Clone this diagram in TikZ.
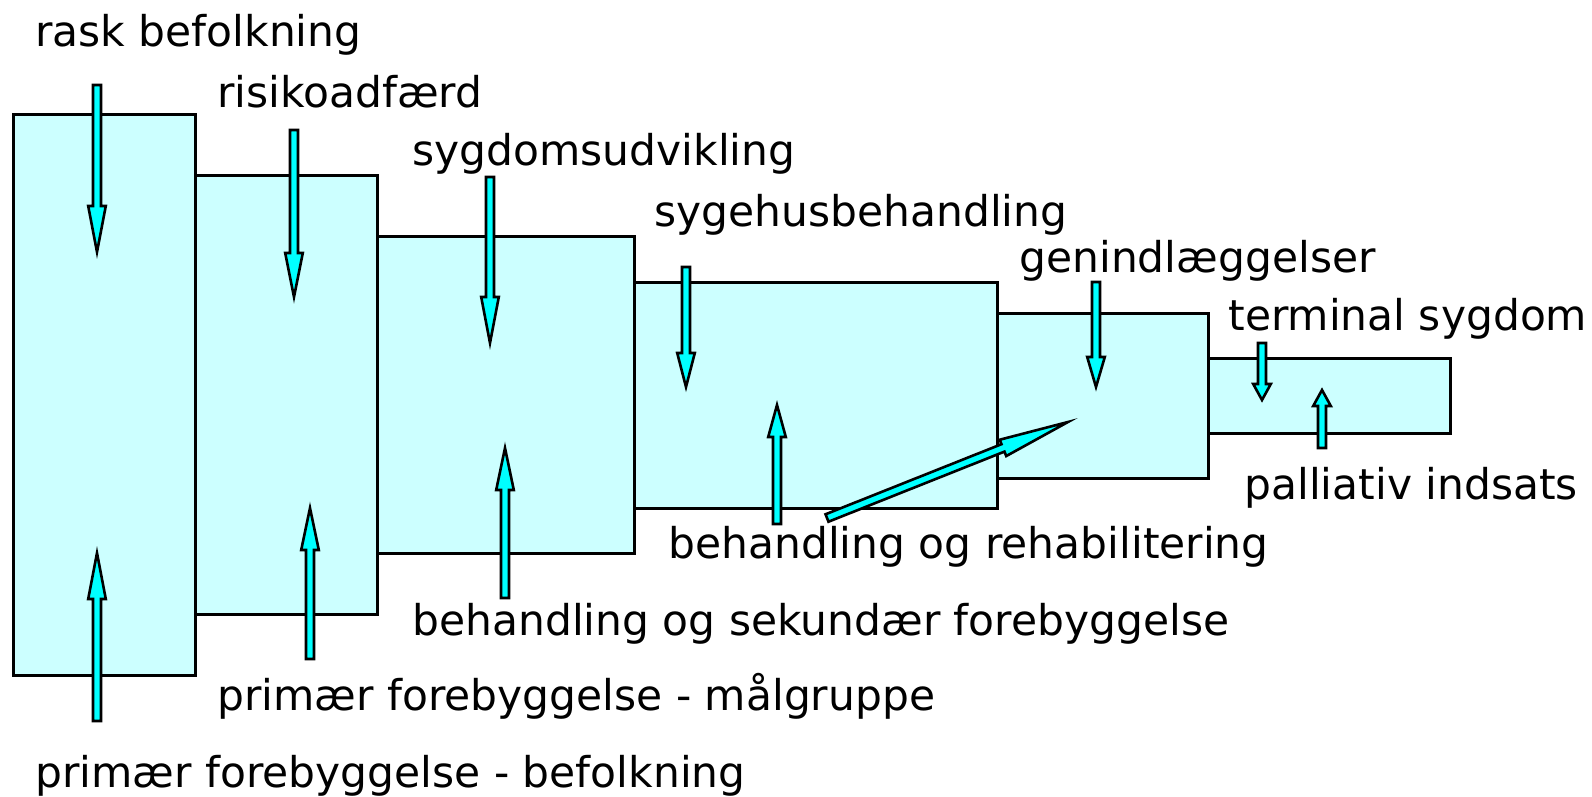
\documentclass[tikz,border=0pt]{standalone}
\usepackage{fontspec}
\setmainfont{DejaVu Sans}
\usepackage{xcolor}
\usepackage{tikz}
\usetikzlibrary{calc}
\definecolor{stagebg}{HTML}{CCFFFF}
\definecolor{arrowbg}{HTML}{00FFFF}

% #1 head length, #2 tail coordinate, #3 tip coordinate
\newcommand{\fatarrow}[3][22pt]{%
  \coordinate (hb) at ($(#3)!#1!(#2)$);
  \draw[fatarr] ($(#2)!2pt!90:(#3)$) -- ($(hb)!2pt!-90:(#2)$) -- ($(hb)!4.4pt!-90:(#2)$)
    -- (#3) -- ($(hb)!4.4pt!90:(#2)$) -- ($(hb)!2pt!90:(#2)$) -- ($(#2)!2pt!-90:(#3)$) -- cycle;
}

\begin{document}
\begin{tikzpicture}[
  x=0.5pt, y=-0.5pt,
  stage/.style={draw=black, fill=stagebg, line width=1.5pt},
  fatarr/.style={draw=black, fill=arrowbg, line width=1.3pt},
  lbl/.style={anchor=base west, inner sep=0pt, font=\fontsize{21.2}{25}\selectfont},
]
  \useasboundingbox (0,0) rectangle (1592,797);

  % stages
  \draw[stage] (13,115)   rectangle (195,675);
  \draw[stage] (195,176)  rectangle (377,614);
  \draw[stage] (377,237)  rectangle (634,553);
  \draw[stage] (634,282)  rectangle (997,508);
  \draw[stage] (997,313)  rectangle (1208,478);
  \draw[stage] (1208,358) rectangle (1450,433);

  % labels
  \node[lbl] (rask)   at (35,47)   {rask befolkning};
  \node[lbl] (risiko) at (217,108) {risikoadfærd};
  \node[lbl] (sygdom) at (412,166) {sygdomsudvikling};
  \node[lbl] (sygehus) at (654,227) {sygehusbehandling};
  \node[lbl] (genind) at (1019,272) {genindlæggelser};
  \node[lbl] (termin) at (1228,330) {terminal sygdom};
  \node[lbl] (pallia) at (1244,499) {palliativ indsats};
  \node[lbl] (rehab)  at (668,558)  {behandling og rehabilitering};
  \node[lbl] (sekund) at (412,635)  {behandling og sekundær forebyggelse};
  \node[lbl] (maalgr) at (217,710)  {primær forebyggelse - målgruppe};
  \node[lbl] (befolk) at (35,787)   {primær forebyggelse - befolkning};

  % arrow ends
  \coordinate (a1s) at (97,85);    \coordinate (a1e) at (97,252);
  \coordinate (a2s) at (97,721);   \coordinate (a2e) at (97,553);
  \coordinate (a3s) at (294,130);  \coordinate (a3e) at (294,297);
  \coordinate (a4s) at (310,659);  \coordinate (a4e) at (310,508);
  \coordinate (a5s) at (490,177);  \coordinate (a5e) at (490,343);
  \coordinate (a6s) at (505,598);  \coordinate (a6e) at (505,448);
  \coordinate (a7s) at (686,267);  \coordinate (a7e) at (686,387);
  \coordinate (a8s) at (777,524);  \coordinate (a8e) at (777,405);
  \coordinate (a9s) at (827,518);  \coordinate (a9e) at (1068,422);
  \coordinate (a10s) at (1096,282); \coordinate (a10e) at (1096,387);
  \coordinate (a11s) at (1262,343); \coordinate (a11e) at (1262,400);
  \coordinate (a12s) at (1322,448); \coordinate (a12e) at (1322,390);

  \fatarrow[23pt]{a1s}{a1e}
  \fatarrow[23pt]{a2s}{a2e}
  \fatarrow[22pt]{a3s}{a3e}
  \fatarrow[21pt]{a4s}{a4e}
  \fatarrow[23pt]{a5s}{a5e}
  \fatarrow[21pt]{a6s}{a6e}
  \fatarrow[17pt]{a7s}{a7e}
  \fatarrow[16pt]{a8s}{a8e}
  \fatarrow[35pt]{a9s}{a9e}
  \fatarrow[15pt]{a10s}{a10e}
  \fatarrow[8pt]{a11s}{a11e}
  \fatarrow[8pt]{a12s}{a12e}
\end{tikzpicture}
\end{document}
